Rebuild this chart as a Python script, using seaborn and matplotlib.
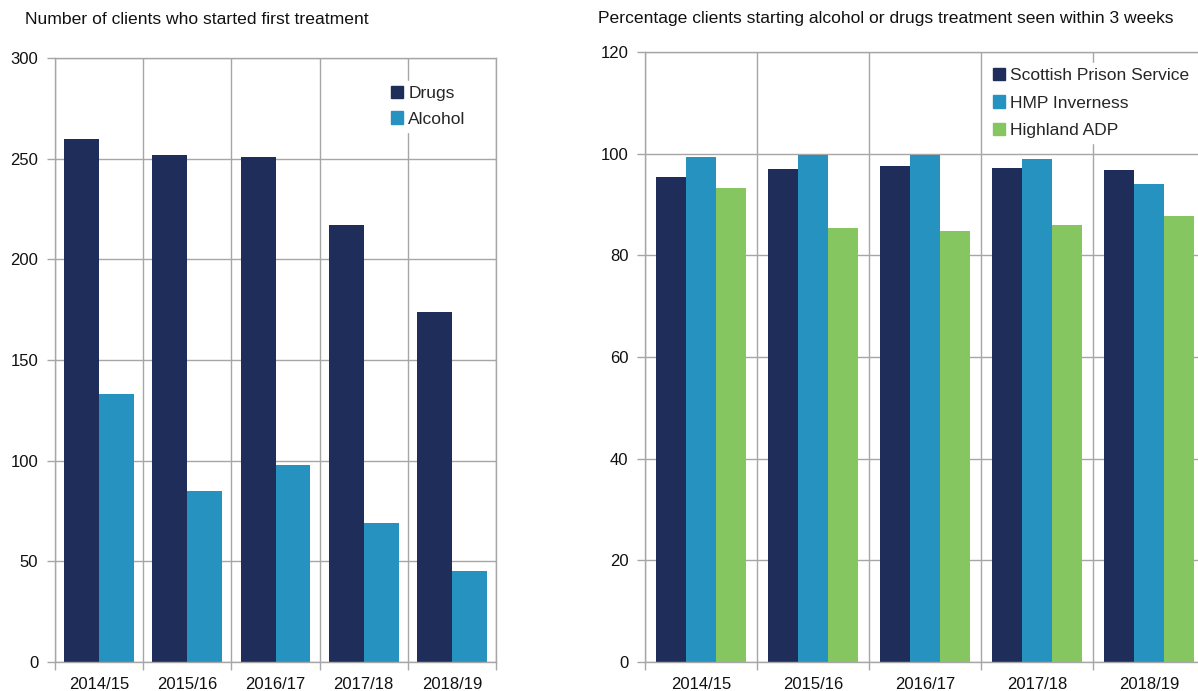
import matplotlib
matplotlib.use("Agg")
import matplotlib.pyplot as plt
from matplotlib.patches import Patch
import seaborn as sns
import pandas as pd
import numpy as np

years = ["2014/15", "2015/16", "2016/17", "2017/18", "2018/19"]

# Left panel: number of clients starting first treatment
drugs = [260, 252, 251, 217, 174]
alcohol = [133, 85, 98, 69, 45]

# Right panel: % clients seen within 3 weeks
sps = [95.4, 97.0, 97.6, 97.2, 96.8]
hmp_inverness = [99.4, 99.7, 99.7, 98.9, 94.0]
highland_adp = [93.2, 85.4, 84.8, 86.0, 87.7]

NAVY = "#1e2d5a"
BLUE = "#2592c0"
GREEN = "#86c660"
GRID = "#a6a6a6"

sns.set_theme(style="white")
plt.rcParams["font.family"] = ["Liberation Sans", "DejaVu Sans"]

left_df = pd.DataFrame({
    "year": years * 2,
    "value": drugs + alcohol,
    "type": ["Drugs"] * 5 + ["Alcohol"] * 5,
})
right_df = pd.DataFrame({
    "year": years * 3,
    "value": sps + hmp_inverness + highland_adp,
    "type": (["Scottish Prison Service"] * 5 + ["HMP Inverness"] * 5
             + ["Highland ADP"] * 5),
})

fig = plt.figure(figsize=(11.98, 6.91), dpi=100)
ax1 = fig.add_axes([55 / 1198, 29 / 691, 441 / 1198, 604 / 691])
ax2 = fig.add_axes([645 / 1198, 29 / 691, 560 / 1198, 610 / 691])


def style_axis(ax, ymax, step):
    ax.set_xlim(-0.5, 4.5)
    ax.set_ylim(0, ymax)
    ax.set_yticks(np.arange(0, ymax + 1, step))
    ax.set_xticks(range(5))
    ax.set_xticks(np.arange(-0.5, 5, 1.0), minor=True)
    ax.set_xticklabels(years)
    ax.set_xlabel("")
    ax.set_ylabel("")
    ax.grid(False)
    ax.grid(axis="y", which="major", color=GRID, linewidth=1, zorder=0)
    ax.grid(axis="x", which="minor", color=GRID, linewidth=1, zorder=0)
    ax.set_axisbelow(True)
    ax.tick_params(axis="x", which="major", length=0, labelsize=12,
                   pad=11, labelcolor="#111111")
    ax.tick_params(axis="x", which="minor", length=6, color=GRID,
                   width=1, direction="out", bottom=True)
    ax.tick_params(axis="y", which="major", length=6, color=GRID, width=1,
                   direction="out", labelsize=12, pad=6, left=True,
                   labelcolor="#111111")
    for s in ax.spines.values():
        s.set_color(GRID)
        s.set_linewidth(1)


legend_style = dict(frameon=True, facecolor="white", edgecolor="white",
                    framealpha=1, fontsize=12.5, handlelength=0.7,
                    handleheight=0.7, handletextpad=0.3, borderpad=0.3,
                    fancybox=False, loc="upper left")

sns.barplot(data=left_df, x="year", y="value", hue="type",
            palette=[NAVY, BLUE], width=0.79, saturation=1,
            linewidth=0, ax=ax1, legend=False)
style_axis(ax1, 300, 50)
ax1.legend(handles=[Patch(color=NAVY, label="Drugs"),
                    Patch(color=BLUE, label="Alcohol")],
           bbox_to_anchor=(0.73, 0.977), labelspacing=0.6, **legend_style)

sns.barplot(data=right_df, x="year", y="value", hue="type",
            palette=[NAVY, BLUE, GREEN], width=0.8, saturation=1,
            linewidth=0, ax=ax2, legend=False)
style_axis(ax2, 120, 20)
ax2.legend(handles=[Patch(color=NAVY, label="Scottish Prison Service"),
                    Patch(color=BLUE, label="HMP Inverness"),
                    Patch(color=GREEN, label="Highland ADP")],
           bbox_to_anchor=(0.596, 0.997), labelspacing=0.72, **legend_style)

fig.text(25 / 1198, 1 - 19 / 691, "Number of clients who started first treatment",
         fontsize=12.6, ha="left", va="center", color="#111111")
fig.text(598 / 1198, 1 - 19 / 691,
         "Percentage clients starting alcohol or drugs treatment seen within 3 weeks",
         fontsize=12.6, ha="left", va="center", color="#111111")

fig.savefig("out.png", dpi=100)
